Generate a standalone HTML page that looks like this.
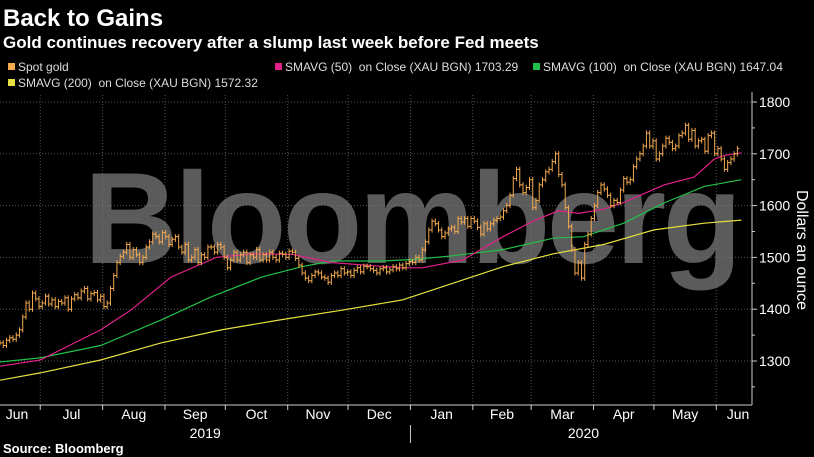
<!DOCTYPE html>
<html><head><meta charset="utf-8">
<style>
html,body{margin:0;padding:0;background:#000;}
body{width:814px;height:457px;overflow:hidden;font-family:"Liberation Sans",Arial,sans-serif;}
</style></head>
<body>
<svg id="chart" width="814" height="457" xmlns="http://www.w3.org/2000/svg" style="display:block">
<rect width="814" height="457" fill="#000"/>
<text x="3" y="26" fill="#fff" font-size="24" font-weight="bold">Back to Gains</text>
<text x="3" y="48" fill="#fff" font-size="17" font-weight="bold">Gold continues recovery after a slump last week before Fed meets</text>
<g id="grid"></g>
<text x="84" y="263" fill="#7a7a7a" fill-opacity="0.75" font-size="130" font-weight="bold" letter-spacing="-3.5">Bloomberg</text>
<g id="series"></g>
<g id="axes"></g>
<g id="legend" font-size="12" fill="#ddd">
<rect x="8" y="63" width="7" height="7" fill="#f5a94a"/>
<text x="18" y="71">Spot gold</text>
<rect x="275" y="63" width="7" height="7" fill="#e0218a"/>
<text x="285" y="71" xml:space="preserve">SMAVG (50)  on Close (XAU BGN) 1703.29</text>
<rect x="533" y="63" width="7" height="7" fill="#22c04a"/>
<text x="543" y="71" xml:space="preserve">SMAVG (100)  on Close (XAU BGN) 1647.04</text>
<rect x="8" y="79" width="7" height="7" fill="#e8e040"/>
<text x="18" y="87" xml:space="preserve">SMAVG (200)  on Close (XAU BGN) 1572.32</text>
</g>
<text x="3" y="453" fill="#fff" font-size="13" font-weight="bold">Source: Bloomberg</text>
</svg>
<script>
// spot gold closes, evenly spaced samples from 2019-06-11 to 2020-06-13
const priceClose=[1335,1330,1340,1345,1342,1350,1360,1385,1412,1400,1431,1420,1405,1412,1425,1410,1418,1405,1415,1412,1422,1400,1420,1428,1422,1435,1440,1420,1430,1432,1418,1425,1405,1412,1440,1465,1490,1502,1510,1525,1500,1515,1505,1490,1500,1520,1530,1545,1540,1530,1548,1540,1525,1535,1540,1520,1510,1525,1495,1500,1515,1490,1505,1500,1520,1520,1510,1525,1520,1500,1480,1495,1510,1495,1505,1510,1490,1505,1500,1515,1495,1505,1495,1510,1500,1495,1508,1506,1500,1512,1510,1498,1485,1470,1460,1455,1465,1472,1470,1462,1460,1452,1465,1470,1465,1478,1470,1472,1465,1475,1480,1472,1483,1482,1478,1475,1470,1478,1480,1472,1476,1482,1478,1485,1480,1488,1492,1490,1500,1495,1515,1530,1553,1570,1565,1553,1540,1547,1555,1558,1550,1575,1568,1575,1560,1575,1570,1558,1545,1565,1555,1565,1572,1575,1578,1590,1600,1620,1652,1670,1640,1625,1635,1650,1596,1610,1640,1650,1665,1670,1685,1700,1660,1640,1596,1560,1515,1470,1490,1460,1525,1545,1575,1600,1625,1640,1632,1620,1600,1610,1606,1630,1652,1645,1650,1675,1690,1700,1715,1740,1715,1725,1690,1700,1715,1730,1722,1710,1715,1735,1740,1755,1728,1745,1715,1725,1728,1705,1735,1740,1700,1710,1690,1670,1683,1690,1700,1710];
const ma50Days=[0,20,50,65,85,107.5,125,145,165,200,210,230,250,265,277.5,287.5,300,310,330,345,355,360,368.5];
const ma50=[1290,1302,1360,1398,1462,1500,1507,1506,1490,1480,1480,1495,1540,1570,1590,1585,1593,1606,1640,1655,1690,1697,1702];
const ma100Days=[0,20,50,80,105,130,150,165,190,205,225,250,275,290,310,330,350,368.5];
const ma100=[1298,1306,1330,1379,1424,1462,1482,1493,1493,1496,1503,1515,1537,1540,1566,1605,1637,1650];
const ma200Days=[0,20,50,80,110,140,170,200,225,250,275,300,325,350,368.5];
const ma200=[1263,1277,1302,1335,1360,1380,1398,1418,1450,1482,1507,1525,1553,1566,1572];
const yTicks=[1300,1400,1500,1600,1700,1800];
const monthNames=['Jun','Jul','Aug','Sep','Oct','Nov','Dec','Jan','Feb','Mar','Apr','May','Jun'];
const monthStartDays=[-10,20,51,82,112,143,173,204,235,264,295,325,356];
const yearLabels=['2019','2020'];
const yearCenterDays=[102,290];

const NS='http://www.w3.org/2000/svg';
const X0=0,PXD=2.012,AXISX=752,AXISY=405,LASTDAY=366.5;
const xs=d=>X0+d*PXD;
const xi=i=>xs(i*LASTDAY/(priceClose.length-1));
const ys=v=>102+(1800-v)*0.518;
function mk(tag,attrs,parent){const e=document.createElementNS(NS,tag);for(const k in attrs)e.setAttribute(k,attrs[k]);parent.appendChild(e);return e;}
const grid=document.getElementById('grid'),series=document.getElementById('series'),axes=document.getElementById('axes');

yTicks.forEach(v=>{
  const l=mk('line',{x1:0,x2:AXISX,y1:ys(v),y2:ys(v),stroke:'#555','stroke-dasharray':'1,2','stroke-width':1},grid);
  
  
  const t=mk('line',{x1:AXISX,x2:AXISX+5,y1:ys(v),y2:ys(v),stroke:'#ccc'},axes);
  
  
  const tx=mk('text',{x:AXISX+7,y:ys(v)+5,fill:'#fff','font-size':14},axes);
  tx.textContent=v;
  
  
});
[1350,1450,1550,1650,1750,1250].forEach(v=>{
  const t=mk('line',{x1:AXISX,x2:AXISX+3,y1:ys(v),y2:ys(v),stroke:'#ccc'},axes);
  
  
});
monthStartDays.forEach((d,i)=>{
  const x=xs(d);
  if(i>0){
    const g=mk('line',{x1:x,x2:x,y1:95,y2:AXISY,stroke:'#555','stroke-dasharray':'1,2'},grid);
    
    
    const t=mk('line',{x1:x,x2:x,y1:AXISY,y2:AXISY+5,stroke:'#ccc'},axes);
    
    
  }
  const next=i<monthStartDays.length-1?monthStartDays[i+1]:370;
  const cx=i==0?17:(i==monthStartDays.length-1?738:xs((d+next)/2));
  const tx=mk('text',{x:cx,y:AXISY+14,fill:'#fff','font-size':14,'text-anchor':'middle'},axes);
  tx.textContent=monthNames[i];
  
  
});
yearLabels.forEach((y,i)=>{
  const tx=mk('text',{x:xs(yearCenterDays[i]),y:AXISY+33,fill:'#fff','font-size':14,'text-anchor':'middle'},axes);
  tx.textContent=y;
  
  
});
const yr=mk('line',{x1:xs(204),x2:xs(204),y1:AXISY+20,y2:AXISY+38,stroke:'#ccc'},axes);


const ax=mk('line',{x1:0,x2:AXISX,y1:AXISY,y2:AXISY,stroke:'#ccc'},axes);


const ay=mk('line',{x1:AXISX,x2:AXISX,y1:92,y2:AXISY,stroke:'#ccc'},axes);


const yt=mk('text',{x:0,y:0,fill:'#fff','font-size':16,'text-anchor':'middle',transform:'translate(797,250) rotate(90)'},axes);
yt.textContent='Dollars an ounce';



function line(days,vals,color,name){
  const d=days.map((dd,i)=>(i?'L':'M')+xs(dd).toFixed(1)+','+ys(vals[i]).toFixed(1)).join('');
  const p=mk('path',{d:d,fill:'none',stroke:color,'stroke-width':1.2},series);
  
  
}
line(ma200Days,ma200,'#e8e040','smavg-200-line');
line(ma100Days,ma100,'#22c04a','smavg-100-line');
line(ma50Days,ma50,'#e0218a','smavg-50-line');

priceClose.forEach((c,i)=>{
  const o=i?priceClose[i-1]:c;
  const hi=Math.max(o,c)+5,lo=Math.min(o,c)-5;
  const x=xi(i);
  const g=mk('path',{d:`M${x},${ys(hi)}V${ys(lo)}M${x-2},${ys(o)}H${x}M${x},${ys(c)}H${x+2}`,stroke:'#f0a850','stroke-width':1,fill:'none'},series);
  
  
});
</script>
</body></html>
